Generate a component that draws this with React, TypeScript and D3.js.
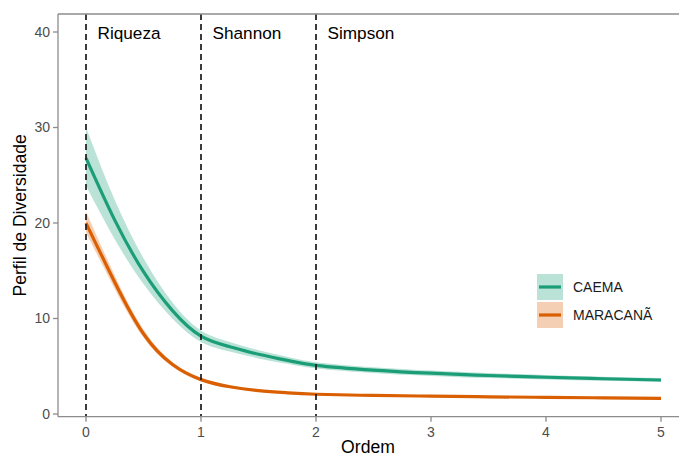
import React from "react";
import * as d3 from "d3";

const orders = [0, 0.25, 0.5, 0.75, 1, 1.25, 1.5, 1.75, 2, 2.5, 3, 3.5, 4, 4.5, 5];

const caemaEst = [26.8, 20.3, 14.9, 10.85, 8.15, 7.05, 6.25, 5.62, 5.1, 4.6, 4.27, 4.03, 3.85, 3.69, 3.56];
const caemaLow = [23.9, 18.3, 13.6, 10.0, 7.55, 6.55, 5.82, 5.25, 4.77, 4.3, 3.99, 3.77, 3.61, 3.47, 3.35];
const caemaUp = [30.0, 22.4, 16.3, 11.7, 8.75, 7.55, 6.68, 6.0, 5.43, 4.9, 4.55, 4.29, 4.09, 3.91, 3.77];

const maraEst = [20.0, 13.8, 8.4, 5.2, 3.6, 2.85, 2.45, 2.22, 2.07, 1.94, 1.87, 1.8, 1.74, 1.69, 1.64];
const maraLow = [19.0, 13.1, 8.0, 4.95, 3.42, 2.72, 2.35, 2.13, 1.99, 1.87, 1.8, 1.74, 1.68, 1.64, 1.59];
const maraUp = [21.2, 14.5, 8.85, 5.45, 3.8, 3.0, 2.57, 2.32, 2.16, 2.02, 1.94, 1.87, 1.8, 1.75, 1.69];

const xTicks = [0, 1, 2, 3, 4, 5];
const yTicks = [0, 10, 20, 30, 40];
const vLines = [0, 1, 2];
const vLabels = ["Riqueza", "Shannon", "Simpson"];
const seriesNames = ["CAEMA", "MARACANÃ"];
const seriesColors = ["#1b9e77", "#d95f02"];

const FONT = "'Liberation Sans', Arial, Helvetica, sans-serif";

export default function App() {
  const W = 679;
  const H = 456;
  const left = 58;
  const right = 679;
  const top = 14;
  const bottom = 416.7;

  const x = d3.scaleLinear().domain([0, 5]).range([86, 661]);
  const y = d3.scaleLinear().domain([0, 40]).range([414, 32]);

  const series = [
    { est: caemaEst, low: caemaLow, up: caemaUp },
    { est: maraEst, low: maraLow, up: maraUp },
  ];

  const line = (vals: number[]) =>
    d3
      .line<number>()
      .x((_, i) => x(orders[i]))
      .y((d) => y(d))
      .curve(d3.curveNatural)(vals) || "";

  const area = (lo: number[], hi: number[]) =>
    d3
      .area<number>()
      .x((_, i) => x(orders[i]))
      .y0((_, i) => y(lo[i]))
      .y1((_, i) => y(hi[i]))
      .curve(d3.curveNatural)(lo) || "";

  const axisColor = "#8c8c8c";
  const tickText = "#4d4d4d";

  return (
    <svg
      width={W}
      height={H}
      style={{ position: "absolute", left: 0, top: 0, background: "#fff" }}
      fontFamily={FONT}
    >
      <rect x={0} y={0} width={W} height={H} fill="#fff" />
      {series.map((s, i) => (
        <path key={"a" + i} d={area(s.low, s.up)} fill={seriesColors[i]} fillOpacity={0.3} stroke="none" />
      ))}
      {series.map((s, i) => (
        <path key={"l" + i} d={line(s.est)} fill="none" stroke={seriesColors[i]} strokeWidth={3.2} />
      ))}
      {vLines.map((v) => (
        <line
          key={"v" + v}
          x1={x(v)}
          x2={x(v)}
          y1={top}
          y2={bottom}
          stroke="#1a1a1a"
          strokeWidth={1.7}
          strokeDasharray="6,4"
        />
      ))}
      {vLabels.map((t, i) => (
        <text key={t} x={x(vLines[i] + 0.1)} y={38.5} fontSize={17.2} fill="#000">
          {t}
        </text>
      ))}
      <line x1={left} x2={right} y1={top} y2={top} stroke={axisColor} strokeWidth={1.3} />
      <line x1={left} x2={left} y1={top} y2={bottom} stroke={axisColor} strokeWidth={1.3} />
      <line x1={left} x2={right} y1={bottom} y2={bottom} stroke={axisColor} strokeWidth={1.3} />
      {yTicks.map((t) => (
        <g key={"y" + t}>
          <line x1={left - 5} x2={left} y1={y(t)} y2={y(t)} stroke={axisColor} strokeWidth={1.3} />
          <text x={left - 8} y={y(t)} dy="0.35em" textAnchor="end" fontSize={14} fill={tickText}>
            {t}
          </text>
        </g>
      ))}
      {xTicks.map((t) => (
        <g key={"x" + t}>
          <line x1={x(t)} x2={x(t)} y1={bottom} y2={bottom + 5} stroke={axisColor} strokeWidth={1.3} />
          <text x={x(t)} y={436.5} textAnchor="middle" fontSize={14} fill={tickText}>
            {t}
          </text>
        </g>
      ))}
      <text x={368} y={453} textAnchor="middle" fontSize={17.6} fill="#000">
        Ordem
      </text>
      <text
        transform={`translate(26,${(top + bottom) / 2}) rotate(-90)`}
        textAnchor="middle"
        fontSize={17.6}
        fill="#000"
      >
        Perfil de Diversidade
      </text>
      {seriesNames.map((n, i) => {
        const ky = 274 + i * 28;
        return (
          <g key={n}>
            <rect x={537} y={ky} width={26} height={26} fill={seriesColors[i]} fillOpacity={0.3} />
            <line x1={539} x2={561} y1={ky + 13} y2={ky + 13} stroke={seriesColors[i]} strokeWidth={3.2} />
            <text x={573} y={ky + 13} dy="0.35em" fontSize={14} fill="#1a1a1a">
              {n}
            </text>
          </g>
        );
      })}
    </svg>
  );
}
